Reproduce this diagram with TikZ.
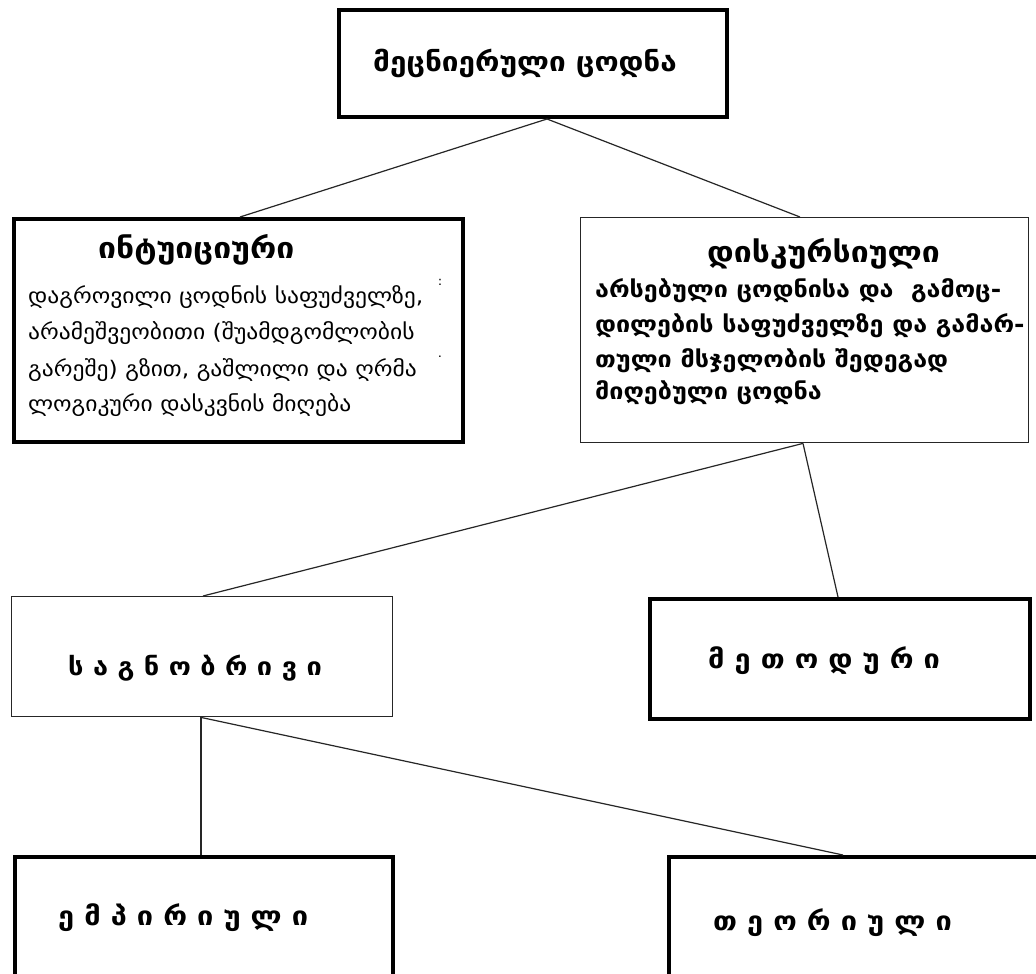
\documentclass[tikz,border=0pt]{standalone}
\usepackage{fontspec}
\newfontfamily\geo[FakeStretch=1.1]{DejaVu Sans}
\begin{document}
\begin{tikzpicture}[x=1pt,y=-1pt,
  thickbox/.style={draw=black, line width=4pt, inner sep=0pt, anchor=north west},
  thinbox/.style={draw=black!85, line width=1.4pt, inner sep=0pt, anchor=north west},
  link/.style={draw=black!85, line width=1.2pt},
  toptxt/.style={font=\geo\bfseries\fontsize{27}{30}\selectfont, inner sep=0pt, anchor=base west},
  ttl/.style={font=\geo\bfseries\fontsize{29}{32}\selectfont, inner sep=0pt, anchor=base west},
  bodyl/.style={font=\geo\fontsize{21.4}{36}\selectfont, inner sep=0pt, anchor=base west},
  bodyr/.style={font=\geo\bfseries\fontsize{22.8}{35}\selectfont, inner sep=0pt, anchor=base west},
  spaced/.style={font=\geo\bfseries\fontsize{26.3}{30}\selectfont, inner sep=0pt, anchor=base west},
  dots/.style={font=\geo\fontsize{12}{14}\selectfont, inner sep=0pt}
]
\useasboundingbox (0,0) rectangle (1036,974);
\clip (0,0) rectangle (1036,974);
\fill[white] (0,0) rectangle (1036,974);

% boxes
\node[thickbox, minimum width=388, minimum height=107] (top) at (337,8) {};
\node[thickbox, minimum width=449, minimum height=223] (intu) at (12,217) {};
\node[thinbox, minimum width=448, minimum height=225] (disk) at (580,217) {};
\node[thinbox, minimum width=381, minimum height=120] (sagn) at (11,596) {};
\node[thickbox, minimum width=380, minimum height=120] (meth) at (648,597) {};
\node[thickbox, minimum width=378, minimum height=135] (emp) at (13,855) {};
\node[thickbox, minimum width=378, minimum height=135] (theo) at (667,855) {};

% junction points
\path (top.south west) ++(210,0) coordinate (jtop);
\path (intu.north west) ++(228,0) coordinate (jintu);
\path (disk.north west) ++(220,0) coordinate (jdiskt);
\path (disk.south west) ++(223,0) coordinate (jdiskb);
\path (sagn.north west) ++(192,0) coordinate (jsagt);
\path (sagn.south west) ++(190,0) coordinate (jsagb);
\path (meth.north west) ++(190,0) coordinate (jmeth);
\path (emp.north west) ++(188,0) coordinate (jemp);
\path (theo.north west) ++(176,0) coordinate (jtheo);

% connectors
\draw[link] (jtop) -- (jintu);
\draw[link] (jtop) -- (jdiskt);
\draw[link] (jdiskb) -- (jsagt);
\draw[link] (jdiskb) -- (jmeth);
\draw[link] (jsagb) -- (jemp);
\draw[link] (jsagb) -- (jtheo);

% texts
\node[toptxt] (ttop) at (373,72) {მეცნიერული ცოდნა};
\node[ttl] (tintu) at (98,258) {ინტუიციური};
\node[bodyl] (bi1) at (28,303) {დაგროვილი ცოდნის საფუძველზე,};
\node[bodyl] (bi2) at (28,339) {არამეშვეობითი (შუამდგომლობის};
\node[bodyl] (bi3) at (28,376) {გარეშე) გზით, გაშლილი და ღრმა};
\node[bodyl] (bi4) at (28,411) {ლოგიკური დასკვნის მიღება};
\node[dots] (d1) at (440,282) {:};
\node[dots] (d2) at (440,357) {.};
\node[ttl] (tdisk) at (707,262) {დისკურსიული};
\node[bodyr] (bd1) at (595,297) {არსებული ცოდნისა და~ გამოც-};
\node[bodyr] (bd2) at (595,332) {დილების საფუძველზე და გამარ-};
\node[bodyr] (bd3) at (595,367) {თული მსჯელობის შედეგად};
\node[bodyr] (bd4) at (595,399) {მიღებული ცოდნა};
\node[spaced, font=\geo\bfseries\fontsize{24.7}{28}\selectfont] (tsagn) at (68,675) {ს ა გ ნ ო ბ რ ი ვ ი};
\node[spaced] (tmeth) at (708,668) {მ ე თ ო დ უ რ ი};
\node[spaced] (temp) at (58,925) {ე მ პ ი რ ი უ ლ ი};
\node[spaced] (ttheo) at (713,930) {თ ე ო რ ი უ ლ ი};
\end{tikzpicture}
\end{document}
